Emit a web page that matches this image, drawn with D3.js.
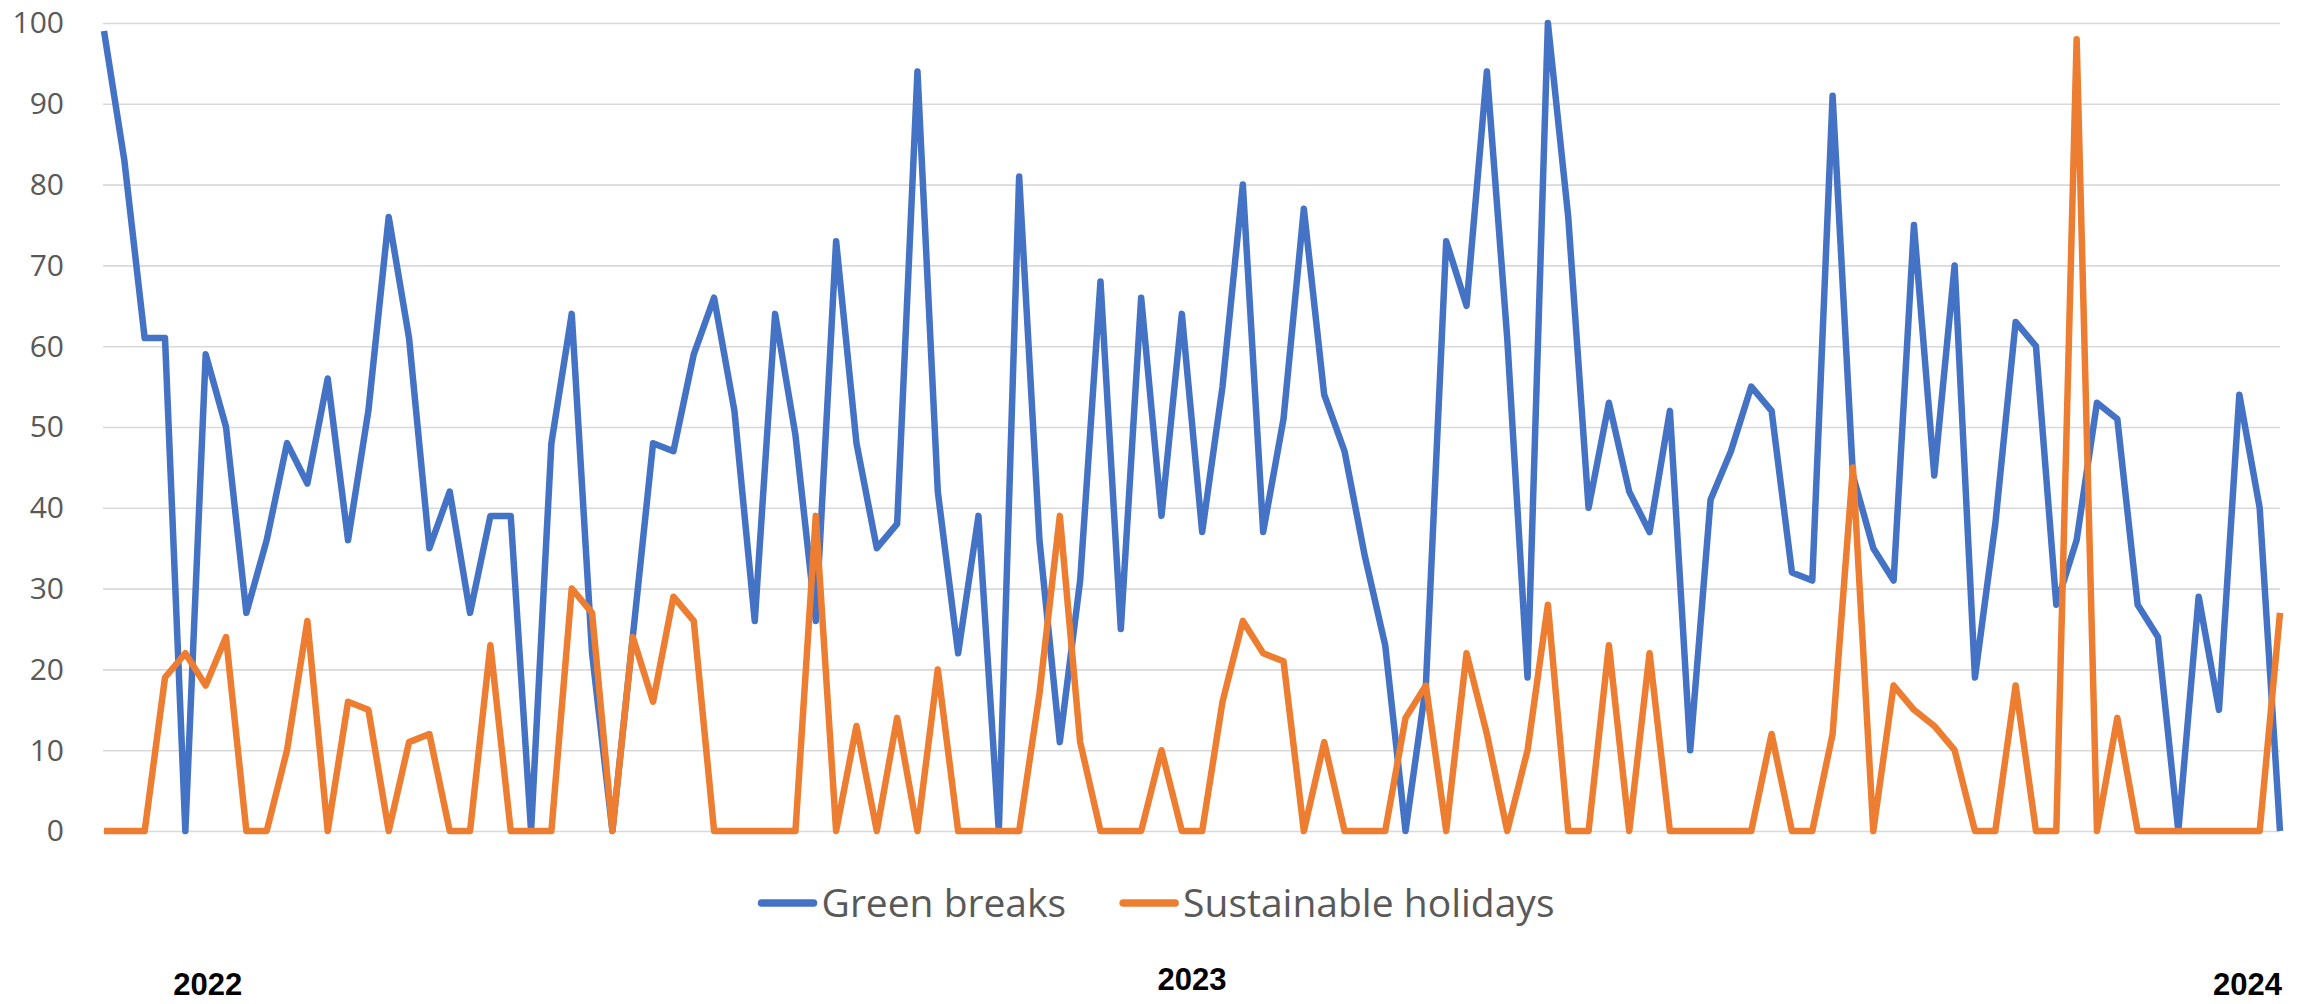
<!DOCTYPE html>
<html>
<head>
<meta charset="utf-8">
<script src="https://cdn.jsdelivr.net/npm/d3@7"></script>
<style>
  html, body { margin: 0; padding: 0; background: #ffffff; }
  svg { display: block; }
</style>
</head>
<body>
<svg id="chart" width="2298" height="1004"></svg>
<script>
// Weekly search interest, one value per week from early 2022 into 2024
const greenBreaks = [
  99, 83, 61, 61, 0, 59, 50, 27, 36, 48, 43, 56, 36, 52, 76, 61,
  35, 42, 27, 39, 39, 0, 48, 64, 22, 0, 24, 48, 47, 59, 66, 52, 26, 64, 49, 26,
  73, 48, 35, 38, 94, 42, 22, 39, 0, 81, 36, 11, 31, 68, 25, 66, 39, 64, 37, 55,
  80, 37, 51, 77, 54, 47, 34, 23, 0, 18, 73, 65, 94, 61, 19, 100, 76, 40, 53,
  42, 37, 52, 10, 41, 47, 55, 52, 32, 31, 91, 44, 35, 31, 75, 44, 70, 19, 38, 63,
  60, 28, 36, 53, 51, 28, 24, 0, 29, 15, 54, 40, 0
];

const sustainableHolidays = [
  0, 0, 0, 19, 22, 18, 24, 0, 0, 10, 26, 0, 16, 15, 0, 11,
  12, 0, 0, 23, 0, 0, 0, 30, 27, 0, 24, 16, 29, 26, 0, 0, 0, 0, 0, 39,
  0, 13, 0, 14, 0, 20, 0, 0, 0, 0, 17, 39, 11, 0, 0, 0, 10, 0, 0, 16,
  26, 22, 21, 0, 11, 0, 0, 0, 14, 18, 0, 22, 12, 0, 10, 28, 0, 0, 23,
  0, 22, 0, 0, 0, 0, 0, 12, 0, 0, 12, 45, 0, 18, 15, 13, 10, 0, 0, 18,
  0, 0, 98, 0, 14, 0, 0, 0, 0, 0, 0, 0, 27
];

const seriesNames = ["Green breaks", "Sustainable holidays"];
const yTicks = [0, 10, 20, 30, 40, 50, 60, 70, 80, 90, 100];
const yearLabels = ["2022", "2023", "2024"];
const yearWeeks = [5.1, 53.5, 105.4];

// ---- layout ----
const colors = ["#4472C4", "#ED7D31"];
const plot = { left: 104, right: 2280, top: 23, bottom: 831 };
const svg = d3.select("#chart");

const x = d3.scaleLinear()
  .domain([0, greenBreaks.length - 1])
  .range([plot.left, plot.right]);

const y = d3.scaleLinear()
  .domain([0, 100])
  .range([plot.bottom, plot.top]);

// horizontal gridlines with value labels
const yAxis = svg.append("g")
  .attr("transform", `translate(${plot.left - 1},0)`)
  .call(d3.axisLeft(y)
    .tickValues(yTicks)
    .tickFormat(d3.format("d"))
    .tickSize(-(plot.right - plot.left + 1))
    .tickPadding(39));

yAxis.select(".domain").remove();
yAxis.selectAll(".tick line")
  .attr("stroke", "#d9d9d9")
  .attr("stroke-width", 1.6);
yAxis.selectAll(".tick text")
  .attr("fill", "#595959")
  .attr("font-family", "'Open Sans', 'DejaVu Sans', sans-serif")
  .attr("font-size", 30)
  .attr("dy", "0.33em");

// series lines
const line = d3.line()
  .x((d, i) => x(i))
  .y(d => y(d));

[greenBreaks, sustainableHolidays].forEach((values, k) => {
  svg.append("path")
    .datum(values)
    .attr("fill", "none")
    .attr("stroke", colors[k])
    .attr("stroke-width", 6.5)
    .attr("stroke-linejoin", "round")
    .attr("stroke-linecap", "butt")
    .attr("d", line);
});

// legend, centred under the chart
const legend = svg.append("g");
const legendY = 903;
const swatchLen = 52, swatchGap = 8, itemGap = 57;
let cursor = 0;
seriesNames.forEach((name, k) => {
  const item = legend.append("g").attr("transform", `translate(${cursor},0)`);
  item.append("line")
    .attr("x1", 0).attr("x2", swatchLen)
    .attr("y1", legendY).attr("y2", legendY)
    .attr("stroke", colors[k])
    .attr("stroke-width", 7.5)
    .attr("stroke-linecap", "round");
  const t = item.append("text")
    .attr("x", swatchLen + swatchGap)
    .attr("y", legendY + 14)
    .attr("fill", "#595959")
    .attr("font-family", "'Open Sans', 'DejaVu Sans', sans-serif")
    .attr("font-size", 39)
    .text(name);
  cursor += swatchLen + swatchGap + t.node().getComputedTextLength() + itemGap;
});
const legendWidth = cursor - itemGap;
legend.attr("transform", `translate(${1158 - legendWidth / 2},0)`);

// year labels along the bottom
const yearDy = [0, -5, 0];
svg.append("g")
  .selectAll("text")
  .data(yearLabels)
  .join("text")
  .attr("x", (d, i) => x(yearWeeks[i]))
  .attr("y", (d, i) => 995 + yearDy[i])
  .attr("text-anchor", "middle")
  .attr("fill", "#000000")
  .attr("font-family", "'Liberation Sans', Arial, sans-serif")
  .attr("font-weight", "bold")
  .attr("font-size", 31)
  .text(d => d);
</script>
</body>
</html>
